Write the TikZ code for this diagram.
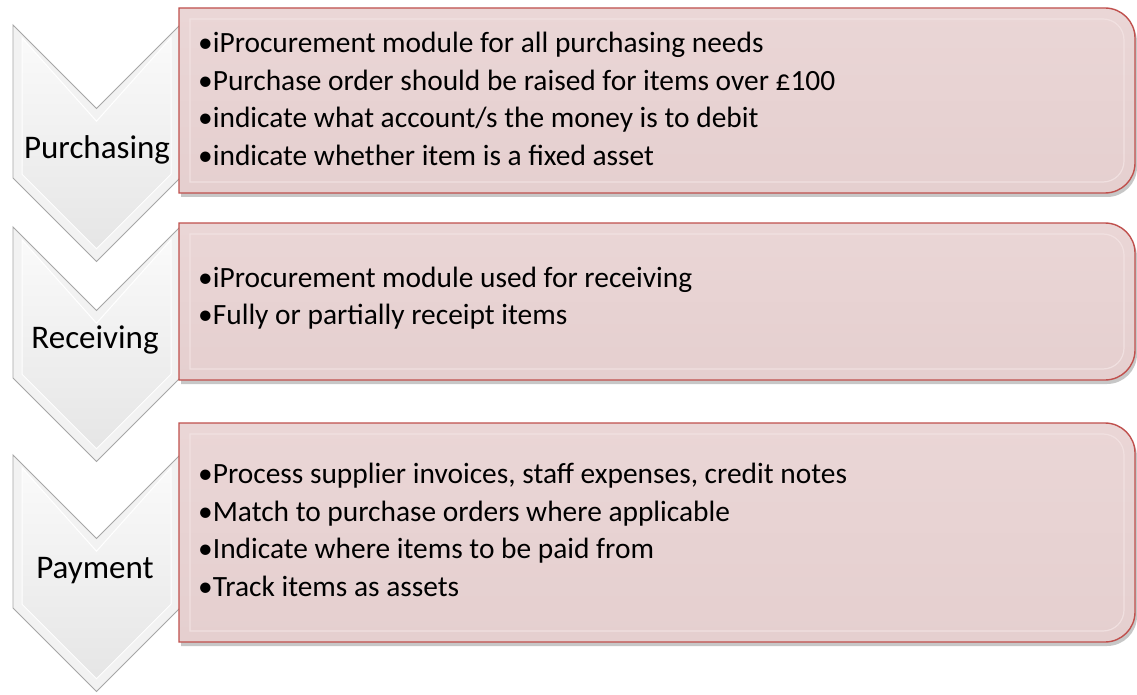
\documentclass[tikz,border=0pt]{standalone}
\usepackage{fontspec}
\setmainfont{Carlito}
\usetikzlibrary{calc}
\definecolor{boxfill}{HTML}{E5CFCF}
\definecolor{boxfilltop}{HTML}{EAD6D6}
\definecolor{boxedge}{HTML}{C0504D}
\definecolor{boxlight}{HTML}{F2E2E2}
\definecolor{chevedge}{HTML}{A6A6A6}
\tikzset{
  chevouter/.style={fill=gray!10, draw=chevedge, line width=0.9pt, line join=miter},
  chevinner/.style={top color=gray!4, bottom color=gray!20, draw=white, line width=1pt},
  boxshadow/.style={fill=black, opacity=0.22},
  boxbody/.style={top color=boxfilltop, bottom color=boxfill, draw=boxedge, line width=1.4pt},
  boxbevel/.style={draw=boxlight, line width=1.2pt, opacity=0.9},
  steplabel/.style={font=\fontsize{33}{36}\selectfont, inner sep=0pt, text=black},
  itemlist/.style={font=\fontsize{29.4}{37.5}\selectfont, inner sep=0pt, align=left, anchor=west, text=black}
}
% chevron: left x, top y (positive down), side length
\newcommand\mychevron[3]{%
  \pgfmathsetmacro\cL{#1}\pgfmathsetmacro\cT{-#2}\pgfmathsetmacro\cS{#3}%
  \pgfmathsetmacro\cR{\cL+167}\pgfmathsetmacro\cM{\cL+83.5}%
  \pgfmathsetmacro\cN{83.5}%
  \path[chevouter] (\cL,\cT) -- (\cM,\cT-\cN) -- (\cR,\cT) -- (\cR,\cT-\cS) -- (\cM,\cT-\cS-\cN) -- (\cL,\cT-\cS) -- cycle;
  \pgfmathsetmacro\dd{9}\pgfmathsetmacro\dq{9*1.4142}%
  \path[chevinner] (\cL+\dd,\cT-\dd-\dq+\dd) -- (\cM,\cT-\cN-\dq) -- (\cR-\dd,\cT-\dd-\dq+\dd) -- (\cR-\dd,\cT-\cS-\dd+\dq) -- (\cM,\cT-\cS-\cN+\dq) -- (\cL+\dd,\cT-\cS-\dd+\dq) -- cycle;
}
% box: top, bottom (positive down)
\newcommand\mypinkbox[2]{%
  \pgfmathsetmacro\bT{-#1}\pgfmathsetmacro\bB{-#2}%
  \path[boxshadow] (181,\bT-4) -- (1107,\bT-4) arc[start angle=90,end angle=0,radius=30] -- (1137,\bB+26) arc[start angle=0,end angle=-90,radius=30] -- (181,\bB-4) -- cycle;
  \path[boxbody] (179,\bT) -- (1105,\bT) arc[start angle=90,end angle=0,radius=30] -- (1135,\bB+30) arc[start angle=0,end angle=-90,radius=30] -- (179,\bB) -- cycle;
  \path[boxbevel] (190,\bT-11) -- (1103,\bT-11) arc[start angle=90,end angle=0,radius=21] -- (1124,\bB+32) arc[start angle=0,end angle=-90,radius=21] -- (190,\bB+11) -- cycle;
}
\begin{document}
\begin{tikzpicture}[x=1pt,y=1pt]
\useasboundingbox[fill=white] (0,0) rectangle (1137,-695);
\mychevron{13}{25}{153}
\mychevron{13}{227}{151}
\mychevron{13}{455}{153}
\mypinkbox{8}{193}
\mypinkbox{223}{380}
\mypinkbox{423}{642}
\node[steplabel] (lpur) at (97,-150) {Purchasing};
\node[steplabel] (lrec) at (95,-340) {Receiving};
\node[steplabel] (lpay) at (95,-571) {Payment};
\node[itemlist] (tpur) at (198,-99) {•iProcurement module for all purchasing needs\\•Purchase order should be raised for items over £100\\•indicate what account/s the money is to debit\\•indicate whether item is a fixed asset};
\node[itemlist] (trec) at (198,-298) {•iProcurement module used for receiving\\•Fully or partially receipt items};
\node[itemlist] (tpay) at (198,-530) {•Process supplier invoices, staff expenses, credit notes\\•Match to purchase orders where applicable\\•Indicate where items to be paid from\\•Track items as assets};
\end{tikzpicture}
\end{document}
